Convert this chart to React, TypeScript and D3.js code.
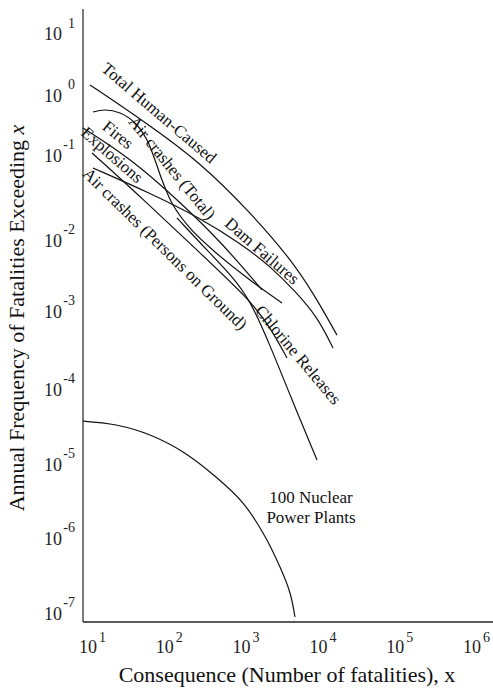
import React from "react";
import * as d3 from "d3";

const W = 493;
const H = 689;

// axis ticks
const xTickValues = [1e1, 1e2, 1e3, 1e4, 1e5, 1e6];
const xTickExps = ["1", "2", "3", "4", "5", "6"];
const yTickValues = [1e1, 1e0, 1e-1, 1e-2, 1e-3, 1e-4, 1e-5, 1e-6, 1e-7];
const yTickExps = ["1", "0", "-1", "-2", "-3", "-4", "-5", "-6", "-7"];

// curves: [fatalities, annual frequency]
const totalHumanCaused: [number, number][] = [
  [10.6, 1.46], [55.2, 0.355], [287, 0.0827], [1285, 0.0213], [4266, 0.00557],
  [9040, 0.00163], [17460, 4.9e-4],
];
const airCrashesTotal: [number, number][] = [
  [11.6, 0.52], [16.6, 0.562], [26.1, 0.501], [40.9, 0.341], [58.6, 0.178], [74.5, 0.0873],
  [92, 0.0508], [128, 0.0258], [213, 0.0138], [451, 0.00678], [1285, 0.00274], [3357, 0.0013],
];
const fires: [number, number][] = [
  [8.6, 0.282], [35.2, 0.0922], [158, 0.028], [556, 0.00907], [1845, 0.00198],
];
const airCrashesGround: [number, number][] = [
  [11.3, 0.108], [55.2, 0.0288], [262, 0.00723], [1285, 0.00143], [2344, 6.24e-4], [3900, 2.5e-4],
];
const damFailures: [number, number][] = [
  [11.6, 0.0704], [64, 0.0357], [287, 0.0182], [953, 0.00907], [2344, 0.00431],
  [5260, 0.00179], [9890, 8.13e-4], [15500, 3.36e-4],
];
const chlorineReleases: [number, number][] = [
  [144, 0.0182], [333, 0.0077], [773, 0.00301], [1285, 0.00143], [2344, 3.66e-4],
  [4266, 8.3e-5], [9600, 1.13e-5],
];
const nuclearPlants: [number, number][] = [
  [8.6, 3.74e-5], [23.2, 3.31e-5], [64, 2.44e-5], [172.6, 1.45e-5], [464, 6.67e-6],
  [1042, 2.97e-6], [1900, 1.17e-6], [3162, 4.1e-7], [4266, 1.85e-7], [4955, 8.85e-8],
];

const basisSeries = [totalHumanCaused, fires, airCrashesGround, damFailures, chlorineReleases];
const smoothSeries = [airCrashesTotal, nuclearPlants];

// rotated curve labels
const curveLabels = [
  { text: "Total Human-Caused", x: 159, y: 113, a: 40.5 },
  { text: "Air crashes (Total)", x: 172, y: 168, a: 51 },
  { text: "Fires", x: 118, y: 135, a: 39 },
  { text: "Explosions", x: 112, y: 155, a: 41 },
  { text: "Air crashes (Persons on Ground)", x: 165, y: 249, a: 44.5 },
  { text: "Dam Failures", x: 262, y: 251, a: 41 },
  { text: "Chlorine Releases", x: 298, y: 355, a: 50 },
];

const FONT = "'Liberation Serif', 'Times New Roman', Times, serif";

export default function App() {
  const x = d3.scaleLog().domain([1e1, 1e6]).range([88, 472]);
  const y = d3
    .scaleLog()
    .domain(yTickValues)
    .range([33.5, 95, 155, 240, 311, 389, 464, 538, 613]);

  const basisLine = d3
    .line<[number, number]>()
    .x((d) => x(d[0]))
    .y((d) => y(d[1]))
    .curve(d3.curveBasis);
  const smoothLine = d3
    .line<[number, number]>()
    .x((d) => x(d[0]))
    .y((d) => y(d[1]))
    .curve(d3.curveCatmullRom.alpha(0.5));

  const axisX = 83;
  const axisY = 622;

  return (
    <svg width={W} height={H} style={{ display: "block", position: "absolute", left: 0, top: 0 }} fontFamily={FONT}>
      <rect width={W} height={H} fill="#fff" />
      {/* axes */}
      <line x1={axisX} y1={9} x2={axisX} y2={axisY} stroke="#444" strokeWidth={1.4} />
      <line x1={axisX} y1={axisY} x2={W} y2={axisY} stroke="#222" strokeWidth={1.4} />

      {/* x tick labels */}
      {xTickValues.map((v, i) => (
        <g key={"xt" + i}>
          <text x={x(v)} y={653} fontSize={18} textAnchor="middle" fill="#222">10</text>
          <text x={x(v) + 11} y={642} fontSize={14} fill="#222">{xTickExps[i]}</text>
        </g>
      ))}

      {/* y tick labels */}
      {yTickValues.map((v, i) => (
        <g key={"yt" + i}>
          <text x={62} y={y(v) + 6.5} fontSize={18} textAnchor="end" fill="#222">10</text>
          <text x={75} y={y(v) - 6} fontSize={14} textAnchor="end" fill="#222">{yTickExps[i]}</text>
        </g>
      ))}

      {/* curves */}
      {basisSeries.map((s, i) => (
        <path key={"b" + i} d={basisLine(s) || ""} fill="none" stroke="#111" strokeWidth={1.2} />
      ))}
      {smoothSeries.map((s, i) => (
        <path key={"s" + i} d={smoothLine(s) || ""} fill="none" stroke="#111" strokeWidth={1.2} />
      ))}

      {/* curve labels */}
      {curveLabels.map((l, i) => (
        <text
          key={"l" + i}
          x={l.x}
          y={l.y}
          fontSize={17}
          textAnchor="middle"
          dominantBaseline="central"
          transform={`rotate(${l.a} ${l.x} ${l.y})`}
          fill="#111"
        >
          {l.text}
        </text>
      ))}

      {/* nuclear label */}
      <text x={311} y={503} fontSize={17} textAnchor="middle" fill="#111">100 Nuclear</text>
      <text x={311} y={523} fontSize={17} textAnchor="middle" fill="#111">Power Plants</text>

      {/* axis titles */}
      <text x={287} y={682} fontSize={22} textAnchor="middle" fill="#111">
        Consequence (Number of fatalities), x
      </text>
      <text
        x={24}
        y={318}
        fontSize={22}
        textAnchor="middle"
        transform={`rotate(-90 24 318)`}
        fill="#111"
      >
        Annual Frequency of Fatalities Exceeding <tspan fontStyle="italic">x</tspan>
      </text>
    </svg>
  );
}
